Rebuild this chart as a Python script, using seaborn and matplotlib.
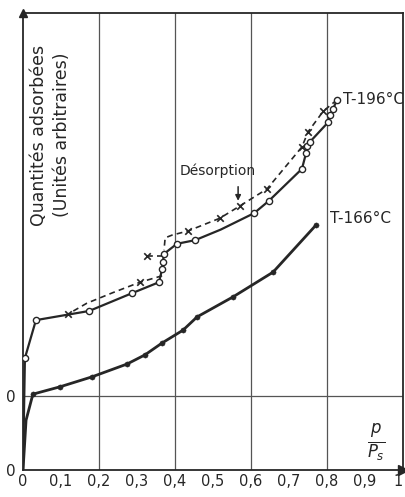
import pandas as pd
import matplotlib
matplotlib.use("Agg")
import matplotlib.pyplot as plt
import seaborn as sns

"""Isothermes d'adsorption à T-196°C et T-166°C (valeurs lues sur la figure, unités arbitraires)"""

# T-196°C : adsorption (cercles ouverts), le 1er point est l'origine (sans marqueur)
ads196_p = [0.0, 0.005, 0.034, 0.174, 0.287, 0.358, 0.366, 0.368, 0.371, 0.405, 0.453,
            0.52, 0.608, 0.647, 0.734, 0.745, 0.747, 0.755, 0.803, 0.808, 0.816, 0.826]
ads196_q = [0.0, 24.5, 32.8, 34.8, 38.7, 41.1, 44.0, 45.5, 47.3, 49.5, 50.3,
            52.6, 56.2, 58.9, 65.9, 69.4, 70.9, 71.8, 76.1, 77.7, 79.0, 81.0]
ads196_mark = [0] + [1] * 10 + [0] + [1] * 10

# T-196°C : désorption (croix), trois morceaux
des196_p = [0.826, 0.79, 0.75, 0.734, 0.642, 0.571, 0.518, 0.434, 0.392, 0.374, 0.371]
des196_q = [81.0, 78.5, 74.0, 70.7, 61.5, 57.8, 55.1, 52.3, 51.4, 50.8, 48.1]
des196_mark = [0, 1, 1, 1, 1, 1, 1, 1, 0, 0, 0]

spur196_p = [0.326, 0.368]
spur196_q = [46.8, 46.8]
spur196_mark = [1, 0]

low196_p = [0.366, 0.308, 0.236, 0.168, 0.118]
low196_q = [42.5, 41.1, 38.8, 36.5, 34.1]
low196_mark = [0, 1, 0, 0, 1]

# T-166°C (points pleins), décalée vers le haut (son zéro est la ligne horizontale)
t166_p = [0.0, 0.008, 0.026, 0.097, 0.182, 0.274, 0.321, 0.366, 0.421, 0.458, 0.553, 0.658, 0.771]
t166_q = [0.0, 10.9, 16.6, 18.2, 20.4, 23.2, 25.2, 27.8, 30.6, 33.5, 37.9, 43.3, 53.6]
t166_mark = [0, 0] + [1] * 11

zero166 = 16.2
grid_p = [0.2, 0.4, 0.6, 0.8]
xticks = [0, 0.1, 0.2, 0.3, 0.4, 0.5, 0.6, 0.7, 0.8, 0.9, 1.0]
xticklabels = ["0", "0,1", "0,2", "0,3", "0,4", "0,5", "0,6", "0,7", "0,8", "0,9", "1"]

sns.set_style("white")
plt.rcParams["font.family"] = ["DejaVu Sans"]

INK = "#262626"


def frame(p, q, mark):
    return pd.DataFrame({"p": p, "q": q, "mark": mark})


fig = plt.figure(figsize=(4.06, 4.97), dpi=100)
ax = fig.add_axes([0.0567, 0.0543, 0.9360, 0.9195])

# grille
for g in grid_p:
    ax.axvline(g, color="#555555", lw=0.9, zorder=1)
ax.axhline(zero166, color="#555555", lw=0.9, zorder=1)

# courbes
d_ads = frame(ads196_p, ads196_q, ads196_mark)
d_166 = frame(t166_p, t166_q, t166_mark)
sns.lineplot(data=d_ads, x="p", y="q", sort=False, estimator=None, color=INK, lw=1.6, ax=ax, zorder=3)
sns.lineplot(data=d_166, x="p", y="q", sort=False, estimator=None, color=INK, lw=2.0, ax=ax, zorder=3)
for p, q, m in [(des196_p, des196_q, des196_mark), (spur196_p, spur196_q, spur196_mark),
                (low196_p, low196_q, low196_mark)]:
    d = frame(p, q, m)
    sns.lineplot(data=d, x="p", y="q", sort=False, estimator=None, color=INK, lw=1.2,
                 dashes=False, ax=ax, zorder=3).lines[-1].set_dashes((3.5, 2.5))
    sns.scatterplot(data=d[d["mark"] == 1], x="p", y="q", marker="x", s=22, color=INK,
                    linewidth=1.2, ax=ax, zorder=4)

sns.scatterplot(data=d_ads[d_ads["mark"] == 1], x="p", y="q", marker="o", s=20,
                facecolor="white", edgecolor=INK, linewidth=1.0, ax=ax, zorder=5)
sns.scatterplot(data=d_166[d_166["mark"] == 1], x="p", y="q", marker="o", s=14,
                color=INK, edgecolor=INK, ax=ax, zorder=5)

# textes
ax.text(0.073, 73.3, "Quantités adsorbées\n(Unités arbitraires)", rotation=90,
        ha="center", va="center", multialignment="center", fontsize=12.5,
        linespacing=1.35, color=INK)
ax.text(0.842, 81.0, "T-196°C", ha="left", va="center", fontsize=11, color=INK)
ax.text(0.808, 55.1, "T-166°C", ha="left", va="center", fontsize=11, color=INK)
ax.text(0.513, 65.4, "Désorption", ha="center", va="center", fontsize=10, color=INK)
ax.annotate("", xy=(0.566, 58.3), xytext=(0.566, 62.6),
            arrowprops=dict(arrowstyle="-|>", lw=1.1, color=INK, mutation_scale=8))
ax.text(0.93, 6.0, r"$\frac{p}{P_s}$", ha="center", va="center", fontsize=17, color=INK)

# axes
ax.set_xlim(0, 1)
ax.set_ylim(0, 100)
ax.set_xticks(xticks)
ax.set_xticklabels(xticklabels, fontsize=10.5, color=INK)
ax.get_xticklabels()[-1].set_ha("right")
ax.set_yticks([0, zero166])
ax.set_yticklabels(["0", "0"], fontsize=11, color=INK)
ax.tick_params(axis="x", direction="in", length=4, width=0.9, color=INK, pad=3)
ax.tick_params(axis="y", length=0, pad=5)
ax.set_xlabel("")
ax.set_ylabel("")
for s in ax.spines.values():
    s.set_color(INK)
    s.set_linewidth(1.3)
ax.plot(1, 0, marker=">", ms=7, color=INK, transform=ax.get_yaxis_transform(), clip_on=False)
ax.plot(0, 1, marker="^", ms=6, color=INK, transform=ax.get_xaxis_transform(), clip_on=False)

fig.savefig("out.png", dpi=100)
